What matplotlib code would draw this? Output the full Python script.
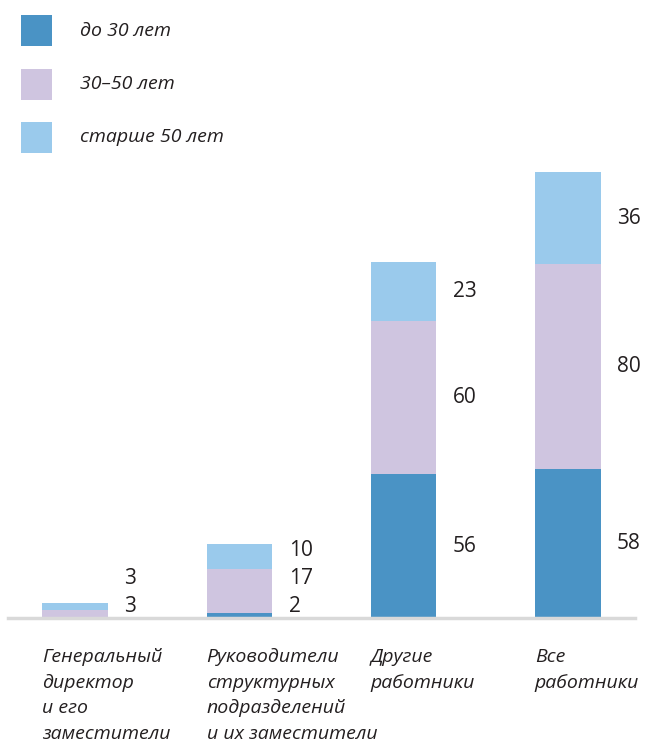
import matplotlib
matplotlib.use('Agg')
import matplotlib.pyplot as plt
from matplotlib.patches import Rectangle
import numpy as np

categories = ['Генеральный\nдиректор\nи его\nзаместители',
              'Руководители\nструктурных\nподразделений\nи их заместители',
              'Другие\nработники',
              'Все\nработники']
series_names = ['до 30 лет', '30–50 лет', 'старше 50 лет']
under_30 = [0, 2, 56, 58]
from_30_to_50 = [3, 17, 60, 80]
over_50 = [3, 10, 23, 36]

colors = ['#4A93C5', '#CFC5E0', '#9ACAEC']
text_color = '#231F20'
plt.rcParams['font.family'] = ['Open Sans', 'DejaVu Sans']

W, H = 645, 742
fig = plt.figure(figsize=(W / 100, H / 100), dpi=100)
ax = fig.add_axes([8 / W, 124 / H, 627 / W, 446 / H])

x = np.arange(len(categories))
width = 0.4
bottom = np.zeros(len(categories))
for vals, col in zip([under_30, from_30_to_50, over_50], colors):
    ax.bar(x, vals, width, bottom=bottom, color=col, linewidth=0)
    bottom += np.array(vals)

# value labels to the right of each bar, pushed apart when segments are thin
for i in x:
    base = 0
    last = -100
    for vals in [under_30, from_30_to_50, over_50]:
        v = vals[i]
        if v > 0:
            y = max(base + v / 2, 4.5, last + 11)
            ax.text(i + width / 2 + 0.1, y, str(v), ha='left', va='center',
                    fontsize=15, color=text_color)
            last = y
        base += v

ax.set_xlim(-0.41, 3.41)
ax.set_ylim(0, under_30[3] + from_30_to_50[3] + over_50[3])
for s in ['top', 'right', 'left']:
    ax.spines[s].set_visible(False)
ax.spines['bottom'].set_color('#D9D9D9')
ax.spines['bottom'].set_linewidth(2.5)
ax.set_yticks([])
ax.set_xticks([])

for i, lab in enumerate(categories):
    ax.text(i - width / 2, -0.068, lab, transform=ax.get_xaxis_transform(),
            ha='left', va='top', fontsize=14, style='italic',
            color=text_color, linespacing=1.53)

# legend: squares with italic labels in the top-left corner
for k, (name, col) in enumerate(zip(series_names, colors)):
    top = 15 + k * 53.5
    fig.add_artist(Rectangle((21 / W, 1 - (top + 31) / H), 31 / W, 31 / H,
                             transform=fig.transFigure, facecolor=col, edgecolor='none'))
    fig.text(80 / W, 1 - (top + 15.5) / H, name, ha='left', va='center',
             fontsize=14, style='italic', color=text_color)

fig.savefig('out.png', dpi=100)
